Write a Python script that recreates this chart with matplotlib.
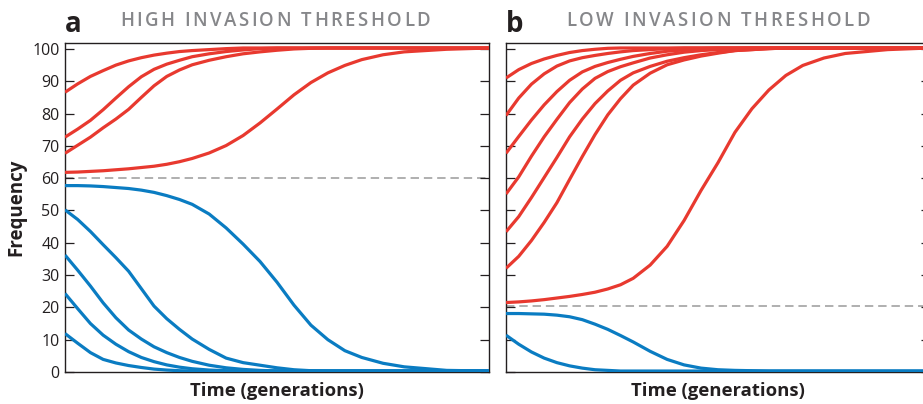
import matplotlib
matplotlib.use("Agg")
import matplotlib.pyplot as plt
from matplotlib.font_manager import FontProperties, findfont
from matplotlib.ft2font import FT2Font

plt.rcParams['font.family'] = ['Open Sans', 'DejaVu Sans']

# ---------------- data ----------------
time = [0, 3, 6, 9, 12, 15, 18, 21, 24, 27, 30, 34, 38, 42, 46, 50, 54, 58, 62, 66, 70, 75, 80, 90, 100]

# Panel a: high invasion threshold (60)
threshold_a = 60
red_a = [
    [86.6, 89.2, 91.5, 93.3, 95.0, 96.3, 97.3, 98.1, 98.7, 99.2, 99.5, 99.8, 100.1, 100.3, 100.3, 100.3, 100.3, 100.3, 100.3, 100.3, 100.3, 100.3, 100.3, 100.3, 100.3],
    [72.7, 75.2, 77.9, 81.2, 84.8, 88.3, 91.4, 93.7, 95.3, 96.5, 97.6, 98.5, 99.2, 99.7, 100.1, 100.3, 100.3, 100.3, 100.3, 100.3, 100.3, 100.3, 100.3, 100.3, 100.3],
    [67.7, 70.2, 72.7, 75.6, 78.3, 81.3, 85.0, 88.6, 91.5, 93.5, 95.1, 96.5, 97.6, 98.5, 99.1, 99.6, 100.0, 100.2, 100.3, 100.3, 100.3, 100.3, 100.3, 100.3, 100.3],
    [61.8, 61.9, 62.1, 62.3, 62.6, 62.9, 63.3, 63.7, 64.3, 65.1, 66.1, 67.8, 70.1, 73.2, 77.1, 81.4, 85.8, 89.6, 92.6, 94.9, 96.7, 98.2, 99.1, 99.9, 100.3],
]
blue_a = [
    [57.7, 57.7, 57.6, 57.4, 57.1, 56.8, 56.3, 55.6, 54.6, 53.4, 51.9, 48.9, 44.6, 39.6, 34.2, 27.8, 20.7, 14.5, 10.0, 6.6, 4.5, 2.7, 1.6, 0.5, 0.3],
    [50.2, 47.2, 43.5, 39.4, 35.4, 31.2, 25.8, 20.4, 16.5, 13.2, 10.2, 7.0, 4.3, 2.9, 2.1, 1.3, 0.7, 0.4, 0.3, 0.3, 0.3, 0.3, 0.3, 0.3, 0.3],
    [36.2, 31.5, 26.6, 21.4, 16.8, 13.0, 10.2, 7.8, 6.0, 4.5, 3.3, 2.1, 1.3, 0.8, 0.5, 0.3, 0.3, 0.3, 0.3, 0.3, 0.3, 0.3, 0.3, 0.3, 0.3],
    [24.3, 19.6, 15.0, 11.4, 8.6, 6.3, 4.5, 3.2, 2.2, 1.5, 1.0, 0.6, 0.4, 0.3, 0.3, 0.3, 0.3, 0.3, 0.3, 0.3, 0.3, 0.3, 0.3, 0.3, 0.3],
    [11.9, 8.9, 6.0, 3.9, 2.8, 2.0, 1.4, 0.9, 0.6, 0.4, 0.3, 0.3, 0.3, 0.3, 0.3, 0.3, 0.3, 0.3, 0.3, 0.3, 0.3, 0.3, 0.3, 0.3, 0.3],
]

# Panel b: low invasion threshold (~20)
threshold_b = 20.3
red_b = [
    [91.0, 93.6, 95.5, 96.9, 98.0, 98.9, 99.5, 99.9, 100.2, 100.3, 100.3, 100.3, 100.3, 100.3, 100.3, 100.3, 100.3, 100.3, 100.3, 100.3, 100.3, 100.3, 100.3, 100.3, 100.3],
    [79.4, 84.8, 89.1, 92.3, 94.7, 96.3, 97.3, 98.0, 98.6, 99.1, 99.5, 99.8, 100.1, 100.3, 100.3, 100.3, 100.3, 100.3, 100.3, 100.3, 100.3, 100.3, 100.3, 100.3, 100.3],
    [67.7, 72.9, 78.0, 82.7, 86.8, 90.3, 92.9, 94.6, 95.8, 96.8, 97.7, 98.6, 99.3, 99.7, 100.1, 100.3, 100.3, 100.3, 100.3, 100.3, 100.3, 100.3, 100.3, 100.3, 100.3],
    [55.1, 60.4, 66.8, 72.8, 78.2, 83.4, 87.6, 90.9, 93.0, 94.5, 95.7, 97.2, 98.2, 99.0, 99.5, 99.8, 100.1, 100.3, 100.3, 100.3, 100.3, 100.3, 100.3, 100.3, 100.3],
    [43.4, 48.1, 54.0, 60.2, 66.4, 72.8, 78.3, 83.1, 87.0, 90.3, 92.6, 94.6, 96.2, 97.3, 98.2, 98.9, 99.5, 99.8, 100.1, 100.3, 100.3, 100.3, 100.3, 100.3, 100.3],
    [32.1, 35.8, 40.7, 46.3, 52.4, 59.6, 66.7, 73.5, 79.6, 84.6, 88.8, 92.5, 95.1, 96.6, 97.8, 98.7, 99.5, 99.8, 100.1, 100.3, 100.3, 100.3, 100.3, 100.3, 100.3],
    [21.5, 21.7, 22.0, 22.4, 22.9, 23.4, 24.0, 24.7, 25.7, 27.0, 29.0, 33.1, 38.9, 46.9, 56.2, 64.8, 74.2, 81.5, 87.3, 91.8, 94.9, 97.2, 98.6, 99.8, 100.3],
]
blue_b = [
    [18.1, 18.1, 18.0, 17.9, 17.6, 17.1, 16.2, 14.8, 13.2, 11.3, 9.3, 6.4, 3.9, 2.2, 1.2, 0.7, 0.5, 0.4, 0.3, 0.3, 0.3, 0.3, 0.3, 0.3, 0.3],
    [11.4, 8.6, 6.2, 4.3, 2.9, 1.9, 1.2, 0.7, 0.5, 0.3, 0.3, 0.3, 0.3, 0.3, 0.3, 0.3, 0.3, 0.3, 0.3, 0.3, 0.3, 0.3, 0.3, 0.3, 0.3],
]

yticks = [0, 10, 20, 30, 40, 50, 60, 70, 80, 90, 100]
titles = ["HIGH INVASION THRESHOLD", "LOW INVASION THRESHOLD"]
panel_labels = ["a", "b"]
xlabel = "Time (generations)"
ylabel = "Frequency"

# ---------------- styling ----------------
RED = "#e8392f"
BLUE = "#0a7cc2"
DARK = "#231f20"
TITLE_GRAY = "#86878a"
W, H = 923, 404
DPI = 100

fig = plt.figure(figsize=(W / DPI, H / DPI), dpi=DPI)

def make_axes(left_px, right_px):
    top_px, bottom_px = 42.5, 372
    return fig.add_axes([left_px / W, 1 - bottom_px / H,
                         (right_px - left_px) / W, (bottom_px - top_px) / H])

ax_a = make_axes(65, 489)
ax_b = make_axes(506, 930)

panels = [
    (ax_a, red_a, blue_a, threshold_a, True),
    (ax_b, red_b, blue_b, threshold_b, False),
]

for i, (ax, reds, blues, thr, show_labels) in enumerate(panels):
    ax.axhline(thr, color="#9a9a9a", lw=1.1, dashes=(5.5, 3.2), zorder=1)
    for ys in blues:
        ax.plot(time, ys, color=BLUE, lw=2.3, solid_capstyle="butt",
                solid_joinstyle="round", zorder=3)
    for ys in reds:
        ax.plot(time, ys, color=RED, lw=2.3, solid_capstyle="butt",
                solid_joinstyle="round", zorder=3)
    ax.set_xlim(0, 100)
    ax.set_ylim(0, 102)
    ax.set_xticks([])
    ax.set_yticks(yticks)
    ax.tick_params(axis="y", direction="in", length=6.5, width=0.9,
                   color=DARK, left=True, right=True, labelleft=show_labels,
                   labelsize=11.5, labelcolor=DARK, pad=4)
    for s in ax.spines.values():
        s.set_color(DARK)
        s.set_linewidth(1.0)
    ax.set_xlabel(xlabel, fontsize=13.3, fontweight="bold", color=DARK, labelpad=7)
    if show_labels:
        ax.set_ylabel(ylabel, fontsize=13.5, fontweight="bold", color=DARK, labelpad=4)


def tracked_title(center_px, baseline_px, text, width_px, size):
    """Draw letter-spaced text, one character at a time."""
    fp = FontProperties(family="Open Sans", weight="semibold", size=size)
    font = FT2Font(findfont(fp))
    font.set_size(size, DPI)
    advs = [font.load_char(ord(c)).linearHoriAdvance / 65536.0 for c in text]
    track = (width_px - sum(advs)) / (len(text) - 1)
    x = center_px - width_px / 2.0
    for c, a in zip(text, advs):
        if c != " ":
            fig.text((x + a / 2.0) / W, 1 - baseline_px / H, c, ha="center",
                     va="baseline", fontproperties=fp, color=TITLE_GRAY)
        x += a + track


tracked_title(275, 26, titles[0], 310, 13.4)
tracked_title(718, 26, titles[1], 304, 13.4)

fig.text(65 / W, 1 - 31.5 / H, panel_labels[0], ha="left", va="baseline",
         fontsize=20, fontweight="bold", color=DARK)
fig.text(506 / W, 1 - 31.5 / H, panel_labels[1], ha="left", va="baseline",
         fontsize=20, fontweight="bold", color=DARK)

fig.savefig("out.png", dpi=DPI)
